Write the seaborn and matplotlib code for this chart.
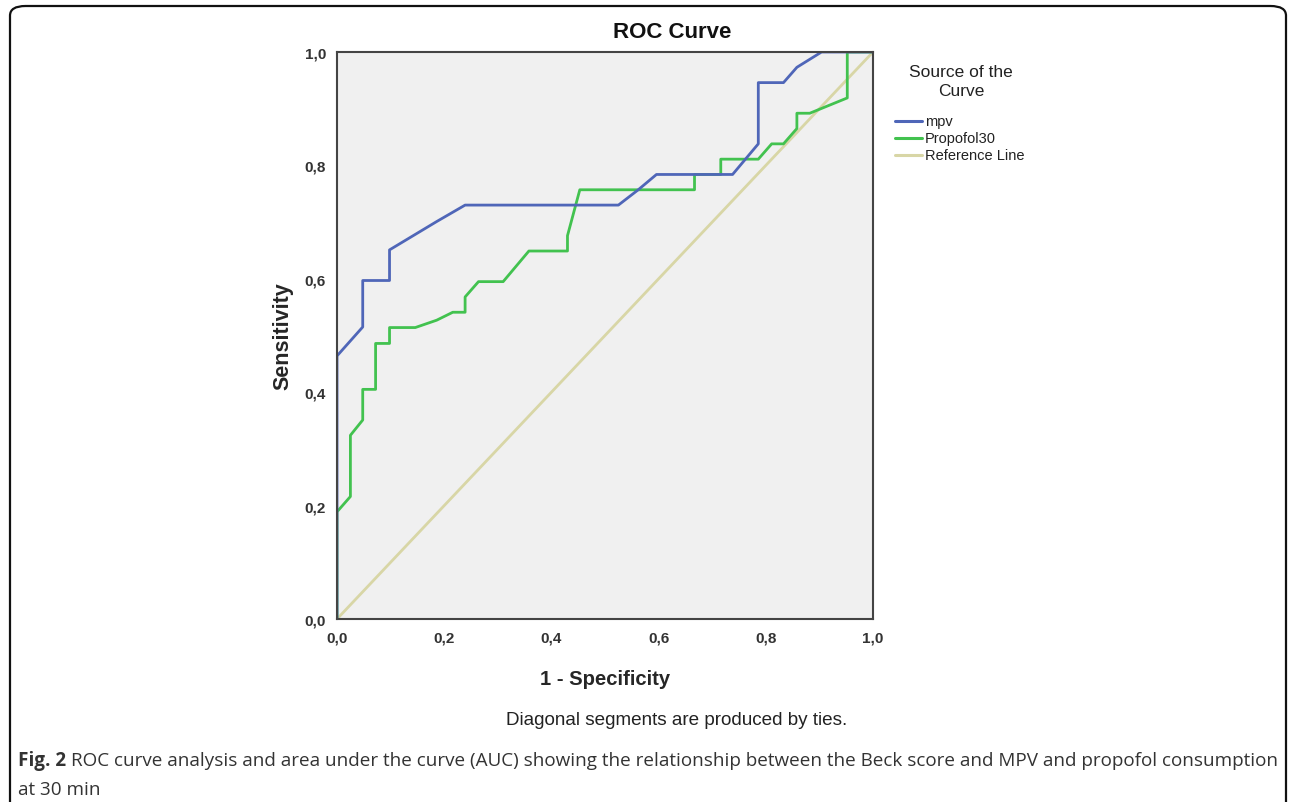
import matplotlib
matplotlib.use("Agg")
import matplotlib.pyplot as plt
from matplotlib.patches import FancyBboxPatch
import seaborn as sns
import pandas as pd

# ROC points (1 - specificity, sensitivity)
mpv_x = [0.0, 0.0, 0.048, 0.048, 0.098, 0.098, 0.186, 0.239, 0.525, 0.562, 0.596,
         0.738, 0.786, 0.786, 0.833, 0.858, 0.904, 1.0]
mpv_y = [0.0, 0.464, 0.515, 0.597, 0.597, 0.651, 0.701, 0.730, 0.730, 0.757, 0.784,
         0.784, 0.838, 0.946, 0.946, 0.973, 1.0, 1.0]

prop_x = [0.0, 0.0, 0.025, 0.025, 0.048, 0.048, 0.072, 0.072, 0.098, 0.098, 0.146,
          0.186, 0.216, 0.239, 0.239, 0.264, 0.310, 0.358, 0.430, 0.430, 0.453,
          0.667, 0.667, 0.716, 0.716, 0.786, 0.811, 0.833, 0.858, 0.858, 0.882,
          0.952, 0.952, 1.0]
prop_y = [0.0, 0.189, 0.216, 0.324, 0.351, 0.405, 0.405, 0.486, 0.486, 0.514, 0.514,
          0.527, 0.541, 0.541, 0.568, 0.595, 0.595, 0.649, 0.649, 0.676, 0.757,
          0.757, 0.784, 0.784, 0.811, 0.811, 0.838, 0.838, 0.865, 0.892, 0.892,
          0.919, 1.0, 1.0]

ref_x = [0.0, 1.0]
ref_y = [0.0, 1.0]

series = ["mpv", "Propofol30", "Reference Line"]
colors = ["#4f66b8", "#42c24f", "#d8d6a6"]
tick_vals = [0.0, 0.2, 0.4, 0.6, 0.8, 1.0]
tick_labels = ["0,0", "0,2", "0,4", "0,6", "0,8", "1,0"]

df = pd.concat([
    pd.DataFrame({"x": mpv_x, "y": mpv_y, "src": series[0]}),
    pd.DataFrame({"x": prop_x, "y": prop_y, "src": series[1]}),
    pd.DataFrame({"x": ref_x, "y": ref_y, "src": series[2]}),
])

sns.set_style("white")
plt.rcParams["font.family"] = ["Liberation Sans", "DejaVu Sans"]

fig = plt.figure(figsize=(12.93, 8.03), dpi=100)
ax = fig.add_axes([337 / 1293, 1 - 620 / 803, 536 / 1293, 567 / 803])
ax.set_facecolor("#f0f0f0")

sns.lineplot(data=df, x="x", y="y", hue="src", hue_order=series[::-1],
             palette=dict(zip(series, colors)), sort=False, estimator=None,
             units="src", linewidth=2, ax=ax, legend=False)

ax.set_xlim(0, 1)
ax.set_ylim(0, 1)
ax.set_xticks(tick_vals)
ax.set_xticklabels(tick_labels)
ax.set_yticks(tick_vals)
ax.set_yticklabels(tick_labels)
ax.tick_params(direction="out", length=6, width=1.5, color="#333333",
               labelsize=11, labelcolor="#333333", pad=2)
for lab in ax.get_xticklabels() + ax.get_yticklabels():
    lab.set_fontweight("bold")
for sp in ax.spines.values():
    sp.set_color("#444444")
    sp.set_linewidth(1.5)

fig.text(672 / 1293, 1 - 33 / 803, "ROC Curve", ha="center", va="center",
         fontsize=16, fontweight="bold", color="#111111")
ax.set_xlabel("1 - Specificity", fontsize=14.6, fontweight="bold", labelpad=18)
ax.set_ylabel("Sensitivity", fontsize=15.5, fontweight="bold", labelpad=8)

# legend
fig.text(961 / 1293, 1 - 82 / 803, "Source of the\nCurve", ha="center", va="center",
         fontsize=12.5, color="#222222", linespacing=1.4)
for i, (name, c) in enumerate(zip(series, colors)):
    yy = 1 - (122 + i * 17) / 803
    fig.add_artist(plt.Line2D([895 / 1293, 922 / 1293], [yy, yy], color=c,
                              linewidth=2.2, transform=fig.transFigure))
    fig.text(925 / 1293, yy, name, ha="left", va="center", fontsize=10.5,
             color="#222222")

fig.text(677 / 1293, 1 - 721 / 803, "Diagonal segments are produced by ties.",
         ha="center", va="center", fontsize=13.6, color="#222222")

# caption and frame
cap_font = ["Open Sans", "DejaVu Sans"]
t1 = fig.text(18 / 1293, 1 - 761 / 803, "Fig. 2", ha="left", va="center",
              fontsize=13.6, fontweight="bold", color="#333333", family=cap_font)
fig.canvas.draw()
bb = t1.get_window_extent()
fig.text((bb.x1 + 5) / 1293, 1 - 761 / 803,
         "ROC curve analysis and area under the curve (AUC) showing the relationship "
         "between the Beck score and MPV and propofol consumption",
         ha="left", va="center", fontsize=13.6, color="#333333", family=cap_font)
fig.text(18 / 1293, 1 - 790 / 803, "at 30 min", ha="left", va="center",
         fontsize=13.6, color="#333333", family=cap_font)

frame = FancyBboxPatch((10 / 1293, -0.05), 1276 / 1293, 1 - 7 / 803 + 0.05,
                       boxstyle="round,pad=0,rounding_size=0.012",
                       transform=fig.transFigure, fill=False,
                       edgecolor="#111111", linewidth=1.6)
fig.add_artist(frame)

fig.savefig("out.png", dpi=100)
